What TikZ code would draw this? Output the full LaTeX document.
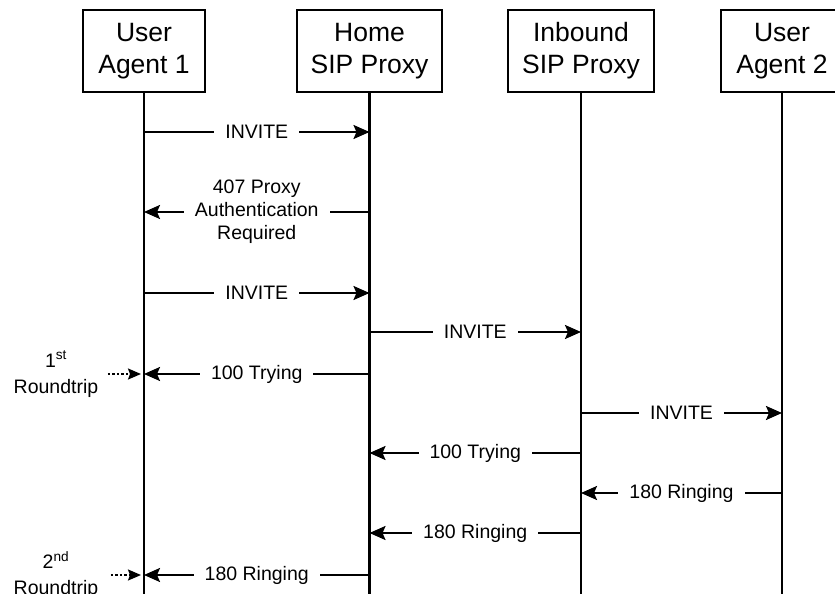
\documentclass[tikz,border=0pt]{standalone}
\usepackage{fontspec}
\setmainfont{Liberation Sans}
\usetikzlibrary{arrows.meta}

\tikzset{
  entity/.style={draw, line width=2pt, minimum width=122pt, minimum height=82pt,
    align=center, font=\fontsize{26.5}{32}\selectfont},
  lifeline/.style={line width=2.2pt},
  msg/.style={line width=2.2pt, -{Stealth[length=16pt,width=14pt,inset=3pt]}},
  msglabel/.style={fill=white, inner xsep=11pt, inner ysep=1pt, align=center,
    font=\fontsize{19.5}{23}\selectfont},
  roundtrip/.style={line width=1.8pt, dash pattern=on 2.5pt off 2pt,
    -{Stealth[length=13pt,width=11pt,inset=2pt]}, shorten >=3pt},
  rtlabel/.style={align=center, font=\fontsize{19.5}{26}\selectfont},
}

% one SIP message between two lifelines at height #3
\newcommand{\sipmsg}[4]{\draw[msg] (#1 |- 0,#3) -- node[msglabel] {#4} (#2 |- 0,#3);}

\begin{document}
\begin{tikzpicture}[x=1pt, y=-1pt]
    \useasboundingbox (0,0) rectangle (835,594);

    % Teilnehmer
    \node[entity] (ua1) at (144,51) {User\\Agent 1};
    \node[entity, minimum width=145pt] (home) at (369.5,51) {Home\\SIP Proxy};
    \node[entity, minimum width=146pt] (inb) at (581,51) {Inbound\\SIP Proxy};
    \node[entity] (ua2) at (782,51) {User\\Agent 2};

    % Lebenslinien
    \coordinate (bottom) at (0,600);
    \foreach \e in {ua1,home,inb,ua2}
        \draw[lifeline] (\e.south) -- (\e |- bottom);

    % Nachrichten
    \sipmsg{ua1}{home}{132}{INVITE}
    \sipmsg{home}{ua1}{212}{407 Proxy\\Authentication\\Required}
    \sipmsg{ua1}{home}{293}{INVITE}
    \sipmsg{home}{inb}{332}{INVITE}
    \sipmsg{home}{ua1}{374}{100 Trying}
    \sipmsg{inb}{ua2}{413}{INVITE}
    \sipmsg{inb}{home}{453}{100 Trying}
    \sipmsg{ua2}{inb}{493}{180 Ringing}
    \sipmsg{inb}{home}{533}{180 Ringing}
    \sipmsg{home}{ua1}{575}{180 Ringing}

    % Roundtrips
    \node[rtlabel] (rt1) at (56,374) {1\textsuperscript{st}\\Roundtrip};
    \draw[roundtrip] ([xshift=6pt]rt1.east) -- (ua1 |- rt1);
    \node[rtlabel] (rt2) at (56,575) {2\textsuperscript{nd}\\Roundtrip};
    \draw[roundtrip] ([xshift=9pt]rt2.east) -- (ua1 |- rt2);
\end{tikzpicture}
\end{document}
